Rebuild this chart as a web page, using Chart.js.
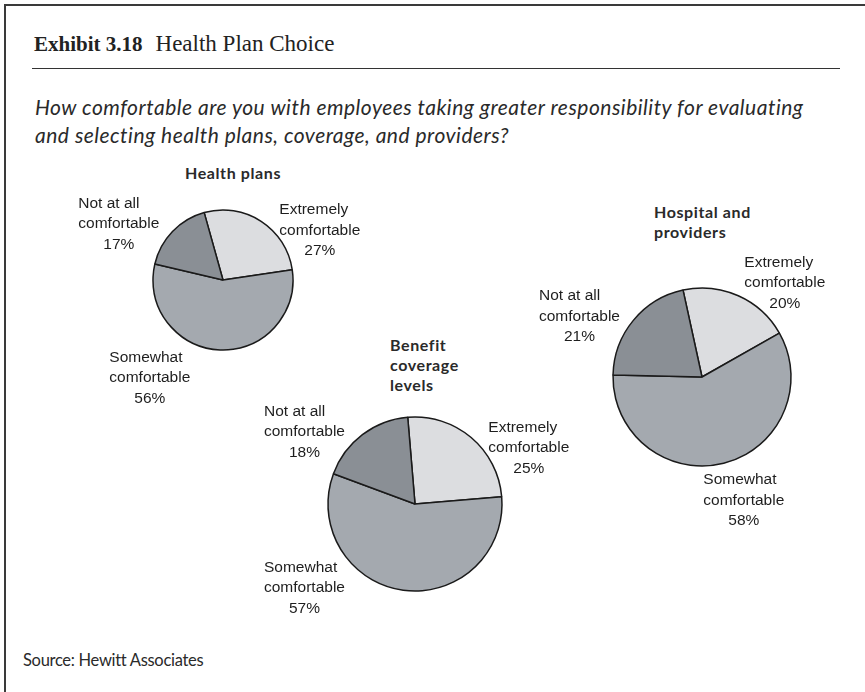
<!DOCTYPE html>
<html>
<head>
<meta charset="utf-8">
<script src="https://cdn.jsdelivr.net/npm/chart.js@4"></script>
<style>
  html, body { margin: 0; padding: 0; background: #fff; }
  body { width: 865px; height: 692px; position: relative; overflow: hidden; }
  .frame-top { position: absolute; left: 4px; top: 4px; width: 861px; height: 2px; background: #3a3a3a; }
  .frame-left { position: absolute; left: 4px; top: 4px; width: 2px; height: 688px; background: #3a3a3a; }
  .rule { position: absolute; left: 32px; top: 67.5px; width: 808px; height: 1.5px; background: #333; }
  .header { position: absolute; left: 34px; top: 31px; font-family: "Liberation Serif", serif; font-size: 23px; color: #222; white-space: nowrap; }
  .header b { font-size: 21px; margin-right: 13px; }
  .question { position: absolute; left: 35px; top: 93px; font-family: Lato, sans-serif; font-style: italic; font-size: 21px; letter-spacing: 0.5px; line-height: 28px; color: #2a2a2a; white-space: nowrap; }
  .source { position: absolute; left: 23px; top: 650px; font-family: Lato, sans-serif; font-size: 16.5px; letter-spacing: -0.3px; color: #2a2a2a; white-space: nowrap; }
  canvas { position: absolute; }
  .pie-title { position: absolute; font-family: Lato, sans-serif; font-weight: bold; font-size: 16px; letter-spacing: 0.6px; line-height: 20px; color: #2a2a2a; white-space: nowrap; }
  .slice-label { position: absolute; display: inline-block; font-family: "Liberation Sans", Arial, sans-serif; font-size: 15.5px; line-height: 20.5px; color: #1e1e1e; white-space: nowrap; }
  .slice-label div { text-align: left; }
  .slice-label div.pct { text-align: center; }
</style>
</head>
<body>
<div class="frame-top"></div>
<div class="frame-left"></div>
<div class="header"><b>Exhibit 3.18</b>Health Plan Choice</div>
<div class="rule"></div>
<div class="question">How comfortable are you with employees taking greater responsibility for evaluating<br>and selecting health plans, coverage, and providers?</div>
<div class="source">Source: Hewitt Associates</div>

<script>
// Survey answers, percent of respondents
var categories = ["Extremely comfortable", "Somewhat comfortable", "Not at all comfortable"];
var healthPlans = [27, 56, 17];
var benefitCoverage = [25, 57, 18];
var hospitalProviders = [20, 58, 21];
var chartTitles = [["Health plans"], ["Benefit", "coverage", "levels"], ["Hospital and", "providers"]];

var sliceColors = ["#dcdde0", "#a4a9af", "#8a8f95"];

// Where each pie sits on the page and where its labels go
// (label order follows categories)
var pies = [
    {
        values: healthPlans, title: chartTitles[0],
        cx: 223, cy: 280, r: 70, rotation: -15.6,
        titlePos: [185, 162.7],
        labelPos: [[279.3, 199], [109.3, 346.5], [78.3, 192.5]]
    },
    {
        values: benefitCoverage, title: chartTitles[1],
        cx: 414.5, cy: 503.7, r: 87, rotation: -4.8,
        titlePos: [390, 335],
        labelPos: [[488.3, 416.5], [264, 556.5], [264, 400.5]]
    },
    {
        values: hospitalProviders, title: chartTitles[2],
        cx: 702, cy: 376.5, r: 89, rotation: -12.3,
        titlePos: [654, 201.7],
        labelPos: [[744.3, 251.5], [703.3, 469], [539, 285]]
    }
];

pies.forEach(function (pie) {
    // canvas a little larger than the pie so the outline isn't clipped
    var size = Math.ceil(pie.r * 2 + 8);
    var canvas = document.createElement("canvas");
    canvas.width = size;
    canvas.height = size;
    canvas.style.left = (pie.cx - size / 2) + "px";
    canvas.style.top = (pie.cy - size / 2) + "px";
    document.body.appendChild(canvas);

    new Chart(canvas, {
        type: "pie",
        data: {
            labels: categories,
            datasets: [
                {
                    data: pie.values,
                    backgroundColor: sliceColors,
                    borderColor: "#1a1a1a",
                    borderWidth: 1.5,
                    borderAlign: "center",
                },
            ],
        },
        options: {
            responsive: false,
            animation: false,
            radius: pie.r,
            rotation: pie.rotation,
            plugins: {
                legend: { display: false },
                tooltip: { enabled: false },
            },
        },
    });

    // chart title
    var title = document.createElement("div");
    title.className = "pie-title";
    title.style.left = pie.titlePos[0] + "px";
    title.style.top = pie.titlePos[1] + "px";
    title.innerHTML = pie.title.join("<br>");
    document.body.appendChild(title);

    // slice labels: category split over two lines, then the value
    categories.forEach(function (cat, i) {
        var words = cat.split(" ");
        var lines = [words.slice(0, -1).join(" "), words[words.length - 1]];
        var label = document.createElement("div");
        label.className = "slice-label";
        label.style.left = pie.labelPos[i][0] + "px";
        label.style.top = pie.labelPos[i][1] + "px";
        label.innerHTML = "<div>" + lines[0] + "</div><div>" + lines[1] +
            "</div><div class='pct'>" + pie.values[i] + "%</div>";
        document.body.appendChild(label);
    });
});
</script>
</body>
</html>
